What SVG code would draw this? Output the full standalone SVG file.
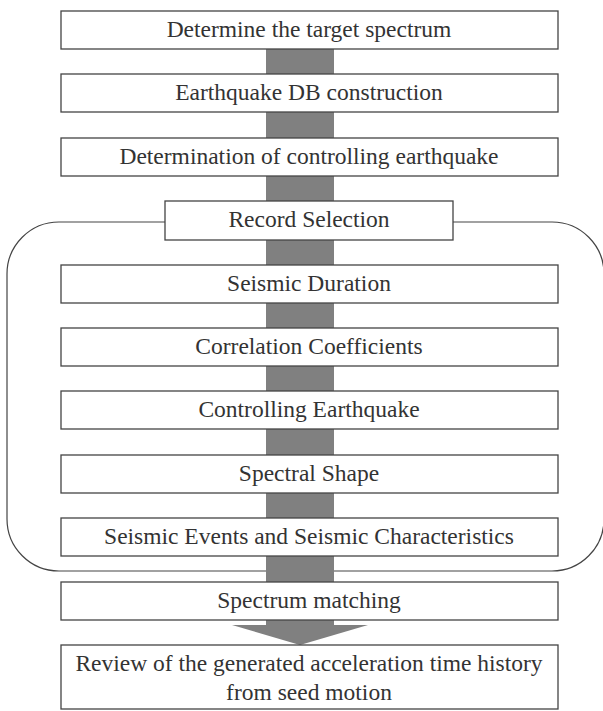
<svg xmlns="http://www.w3.org/2000/svg" width="603" height="711" viewBox="0 0 603 711">
  <style>
    .box { fill: #ffffff; stroke: #444444; stroke-width: 1.3; }
    .lbl { font-family: 'Liberation Serif', 'DejaVu Serif', serif; font-size: 23.5px; fill: #333333; text-anchor: middle; }
    .bracket { fill: none; stroke: #444444; stroke-width: 1.2; }
    .flow { fill: #808080; stroke: none; }
  </style>
  <rect x="0" y="0" width="603" height="711" fill="#ffffff"/>
  <g id="group-bracket">
    <rect class="bracket" x="7" y="222" width="597" height="349" rx="52" ry="52"/>
  </g>
  <g id="connectors">
    <rect class="flow" x="266" y="49" width="68" height="576"/>
    <polygon class="flow" points="232,625 368,625 300,645"/>
  </g>
  <g id="n1"><rect class="box" x="61" y="11" width="497" height="38"/><text class="lbl" font-family="Liberation Serif, serif" x="309" y="37">Determine the target spectrum</text></g>
  <g id="n2"><rect class="box" x="61" y="74" width="497" height="38"/><text class="lbl" font-family="Liberation Serif, serif" x="309" y="100">Earthquake DB construction</text></g>
  <g id="n3"><rect class="box" x="61" y="138" width="497" height="38"/><text class="lbl" font-family="Liberation Serif, serif" x="309" y="164">Determination of controlling earthquake</text></g>
  <g id="n4"><rect class="box" x="165" y="201" width="288" height="39"/><text class="lbl" font-family="Liberation Serif, serif" x="309" y="227">Record Selection</text></g>
  <g id="n5"><rect class="box" x="61" y="265" width="497" height="38"/><text class="lbl" font-family="Liberation Serif, serif" x="309" y="291">Seismic Duration</text></g>
  <g id="n6"><rect class="box" x="61" y="328" width="497" height="38"/><text class="lbl" font-family="Liberation Serif, serif" x="309" y="354">Correlation Coefficients</text></g>
  <g id="n7"><rect class="box" x="61" y="391" width="497" height="38"/><text class="lbl" font-family="Liberation Serif, serif" x="309" y="417">Controlling Earthquake</text></g>
  <g id="n8"><rect class="box" x="61" y="455" width="497" height="38"/><text class="lbl" font-family="Liberation Serif, serif" x="309" y="481">Spectral Shape</text></g>
  <g id="n9"><rect class="box" x="61" y="518" width="497" height="38"/><text class="lbl" font-family="Liberation Serif, serif" x="309" y="544">Seismic Events and Seismic Characteristics</text></g>
  <g id="n10"><rect class="box" x="61" y="582" width="497" height="38"/><text class="lbl" font-family="Liberation Serif, serif" x="309" y="608">Spectrum matching</text></g>
  <g id="n11"><rect class="box" x="61" y="645" width="497" height="64"/><text class="lbl" font-family="Liberation Serif, serif" x="309" y="671">Review of the generated acceleration time history</text><text class="lbl" font-family="Liberation Serif, serif" x="309" y="700">from seed motion</text></g>
</svg>
